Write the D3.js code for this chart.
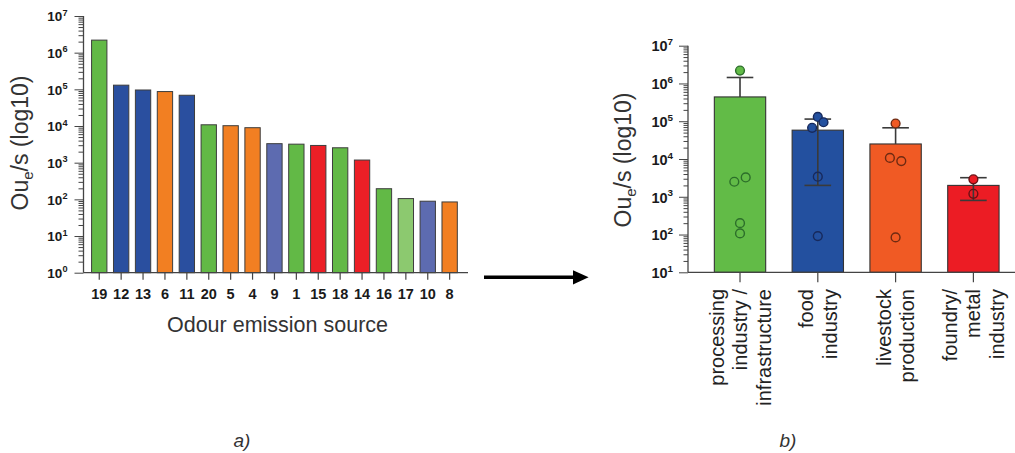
<!DOCTYPE html>
<html>
<head>
<meta charset="utf-8">
<script src="https://cdn.jsdelivr.net/npm/d3@7"></script>
<style>
  html, body { margin: 0; padding: 0; background: #fff; }
  svg { display: block; font-family: "Liberation Sans", Arial, sans-serif; }
</style>
</head>
<body>
<svg id="fig" width="1015" height="453"></svg>
<script>
// ---- Panel a: odour emission per source ----
const sources = ["19","12","13","6","11","20","5","4","9","1","15","18","14","16","17","10","8"];
const sourceEmission = [2.2e6, 1.3e5, 9.6e4, 8.7e4, 6.9e4, 1.08e4, 1.02e4, 9.0e3, 3.3e3, 3.2e3, 2.95e3, 2.55e3, 1.18e3, 1.95e2, 1.05e2, 8.9e1, 8.5e1];
const sourceKind = ["proc","food","food","live","food","proc","live","live","slate","proc","metal","proc","metal","proc","light","slate","live"];

// ---- Panel b: emission by industry sector ----
const sectors = [
  ["processing", "industry /", "infrastructure"],
  ["food", "industry"],
  ["livestock", "production"],
  ["foundry/", "metal", "industry"]
];
const sectorMean = [4.4e5, 5.8e4, 2.5e4, 2.0e3];
const sectorSD   = [1.0e6, 5.6e4, 4.2e4, 1.2e3];
const procPoints  = [2.2e6, 3.25e3, 2.5e3, 2.0e2, 1.07e2];
const foodPoints  = [1.3e5, 9.4e4, 6.7e4, 3.4e3, 9.1e1];
const livePoints  = [8.7e4, 1.07e4, 8.8e3, 8.4e1];
const metalPoints = [2.9e3, 1.2e3];
const procFilled  = [1, 0, 0, 0, 0];
const foodFilled  = [1, 1, 1, 0, 0];
const liveFilled  = [1, 0, 0, 0];
const metalFilled = [1, 0];

const ticksA = [1e0, 1e1, 1e2, 1e3, 1e4, 1e5, 1e6, 1e7];
const ticksB = [1e1, 1e2, 1e3, 1e4, 1e5, 1e6, 1e7];

// ---- styling ----
const kindFill = {
  proc: "#62b946", food: "#2a4f9f", live: "#f27f22", slate: "#5d6bb0",
  metal: "#ec1f26", light: "#8cc96f"
};
const sectorFill = ["#62bb47", "#23509f", "#f05a24", "#ec1c24"];
const sectorDark = ["#2c6e2a", "#17295c", "#6e2a12", "#6a1014"];
// horizontal dodge slots for overlapping dots (in dot-widths)
const dodge = [[0, 1, -1, 0, 0], [0, 1, -1, 0, 0], [0, -1, 1, 0], [0, 0]];

const svg = d3.select("#fig");

function powLabel(sel, fs, sup) {
  sel.each(function (d) {
    const t = d3.select(this).text(null);
    t.append("tspan").text("10");
    t.append("tspan").attr("dy", -sup).attr("font-size", fs * 0.68)
      .text(Math.round(Math.log10(d)));
  });
}

function minorTicks(domain) {
  const out = [];
  for (let e = Math.log10(domain[0]); e < Math.log10(domain[1]); e++) {
    for (let k = 2; k <= 9; k++) out.push(k * Math.pow(10, e));
  }
  return out;
}

function logAxis(g, y, ticks, opt) {
  const minor = g.append("g").call(
    d3.axisLeft(y).tickValues(minorTicks(y.domain())).tickSize(opt.minor).tickFormat(""));
  minor.select(".domain").remove();
  const major = g.append("g").call(
    d3.axisLeft(y).tickValues(ticks).tickSize(opt.major).tickPadding(opt.pad).tickFormat(d => d));
  major.select(".domain").attr("stroke", "#444").attr("stroke-width", 1.3)
    .attr("d", `M0,${y.range()[0]}V${y.range()[1]}`);
  g.selectAll(".tick line").attr("stroke", "#444").attr("stroke-width", 1);
  major.selectAll(".tick text")
    .attr("font-family", "'Liberation Sans', Arial, sans-serif")
    .attr("font-weight", "bold").attr("font-size", opt.fs).attr("fill", "#1a1a1a")
    .attr("dy", "0.36em")
    .call(powLabel, opt.fs, opt.fs * 0.42);
}

function yTitle(x, yc) {
  const t = svg.append("text")
    .attr("transform", `translate(${x},${yc}) rotate(-90)`)
    .attr("text-anchor", "middle").attr("font-size", 23).attr("fill", "#333");
  t.append("tspan").text("Ou");
  t.append("tspan").attr("font-size", 15).attr("dy", 5).text("e");
  t.append("tspan").attr("dy", -5).text("/s (log10)");
}

// ===================== Panel a =====================
const ax0 = 83.5, axEnd = 468;
const yA = d3.scaleLog().domain([1, 1e7]).range([272.7, 16]);
const xA = d3.scaleBand().domain(sources).range([88.3, 460.6])
  .paddingInner(0.3).paddingOuter(0.15);

const gA = svg.append("g");
gA.selectAll("rect.bar").data(sources).join("rect")
  .attr("class", "bar")
  .attr("x", d => xA(d))
  .attr("width", xA.bandwidth())
  .attr("y", (d, i) => yA(sourceEmission[i]))
  .attr("height", (d, i) => yA(1) - yA(sourceEmission[i]))
  .attr("fill", (d, i) => kindFill[sourceKind[i]])
  .attr("stroke", "#3d3d3d").attr("stroke-width", 1);

const xAxisA = gA.append("g").attr("transform", `translate(0,${yA(1)})`)
  .call(d3.axisBottom(xA).tickSize(7).tickPadding(8.6));
xAxisA.select(".domain").attr("d", `M${ax0},0H${axEnd}`)
  .attr("stroke", "#444").attr("stroke-width", 1.3);
xAxisA.selectAll(".tick line").attr("stroke", "#444").attr("stroke-width", 1.2);
xAxisA.selectAll(".tick text")
  .attr("font-family", "'Liberation Sans', Arial, sans-serif")
  .attr("font-size", 14.5).attr("font-weight", "bold").attr("fill", "#1a1a1a");

logAxis(gA.append("g").attr("transform", `translate(${ax0},0)`), yA, ticksA,
  { major: 9, minor: 5, pad: 7, fs: 13.5 });

yTitle(27.5, 143);
svg.append("text").attr("x", 277.5).attr("y", 332)
  .attr("text-anchor", "middle").attr("font-size", 21.5).attr("fill", "#333")
  .text("Odour emission source");

// ===================== Arrow =====================
svg.append("line").attr("x1", 484).attr("x2", 576).attr("y1", 277.3).attr("y2", 277.3)
  .attr("stroke", "#000").attr("stroke-width", 3.4);
svg.append("path").attr("d", "M573,270.2L588.6,277.3L573,284.4Z").attr("fill", "#000");

// ===================== Panel b =====================
const bx0 = 688, bxEnd = 1015;
const yB = d3.scaleLog().domain([10, 1e7]).range([272.3, 45.7]);
const sectorIdx = d3.range(sectors.length);
const xB = d3.scaleBand().domain(sectorIdx).range([691, 1022.4])
  .paddingInner(0.34).paddingOuter(0.3);
const bc = i => xB(i) + xB.bandwidth() / 2;

const gB = svg.append("g");
gB.selectAll("rect.bar").data(sectorIdx).join("rect")
  .attr("class", "bar")
  .attr("x", i => xB(i)).attr("width", xB.bandwidth())
  .attr("y", i => yB(sectorMean[i]))
  .attr("height", i => yB(10) - yB(sectorMean[i]))
  .attr("fill", i => sectorFill[i])
  .attr("stroke", "#333").attr("stroke-width", 1.1);

// mean ± SD whiskers
const capHalf = 13.3;
sectorIdx.forEach(i => {
  const hi = sectorMean[i] + sectorSD[i];
  const lo = sectorMean[i] - sectorSD[i];
  const yLo = lo > 0 ? yB(lo) : yB(sectorMean[i]);
  const g = gB.append("g").attr("stroke", "#3a3a3a").attr("stroke-width", 1.6);
  g.append("line").attr("x1", bc(i)).attr("x2", bc(i)).attr("y1", yB(hi)).attr("y2", yLo);
  g.append("line").attr("x1", bc(i) - capHalf).attr("x2", bc(i) + capHalf)
    .attr("y1", yB(hi)).attr("y2", yB(hi));
  if (lo > 0) {
    g.append("line").attr("x1", bc(i) - capHalf).attr("x2", bc(i) + capHalf)
      .attr("y1", yB(lo)).attr("y2", yB(lo));
  }
});

// individual sources
const sectorPoints = [procPoints, foodPoints, livePoints, metalPoints];
const sectorFilled = [procFilled, foodFilled, liveFilled, metalFilled];
const dotR = 4.4, slotW = 5.7;
sectorIdx.forEach(i => {
  gB.append("g").selectAll("circle").data(sectorPoints[i]).join("circle")
    .attr("cx", (v, j) => bc(i) + dodge[i][j] * slotW)
    .attr("cy", v => yB(v))
    .attr("r", dotR)
    .attr("fill", (v, j) => sectorFilled[i][j] ? sectorFill[i] : "none")
    .attr("stroke", sectorDark[i]).attr("stroke-width", 1.4);
});

const xAxisB = gB.append("g").attr("transform", `translate(0,${yB(10)})`)
  .call(d3.axisBottom(xB).tickSize(10).tickFormat(""));
xAxisB.select(".domain").attr("d", `M${bx0},0H${bxEnd}`)
  .attr("stroke", "#444").attr("stroke-width", 1.3);
xAxisB.selectAll(".tick line").attr("stroke", "#444").attr("stroke-width", 1.2);

logAxis(gB.append("g").attr("transform", `translate(${bx0},0)`), yB, ticksB,
  { major: 9, minor: 4.5, pad: 6, fs: 14.5 });

// rotated multi-line sector names
const lineH = 23.5;
sectorIdx.forEach(i => {
  const lines = sectors[i];
  const n = lines.length;
  const t = gB.append("text")
    .attr("transform", `translate(${bc(i) + 7},289) rotate(-90)`)
    .attr("text-anchor", "end").attr("font-size", 20).attr("fill", "#222");
  lines.forEach((s, k) => {
    t.append("tspan").attr("x", 0).attr("y", (k - (n - 1) / 2) * lineH).text(s);
  });
});

yTitle(631, 160);

// panel letters
svg.append("text").attr("x", 242).attr("y", 447).attr("text-anchor", "middle")
  .attr("font-family", "'Liberation Sans Narrow', 'Liberation Sans', sans-serif")
  .attr("font-style", "italic").attr("font-size", 19).attr("fill", "#333").text("a)");
svg.append("text").attr("x", 788).attr("y", 447).attr("text-anchor", "middle")
  .attr("font-family", "'Liberation Sans Narrow', 'Liberation Sans', sans-serif")
  .attr("font-style", "italic").attr("font-size", 19).attr("fill", "#333").text("b)");
</script>
</body>
</html>
